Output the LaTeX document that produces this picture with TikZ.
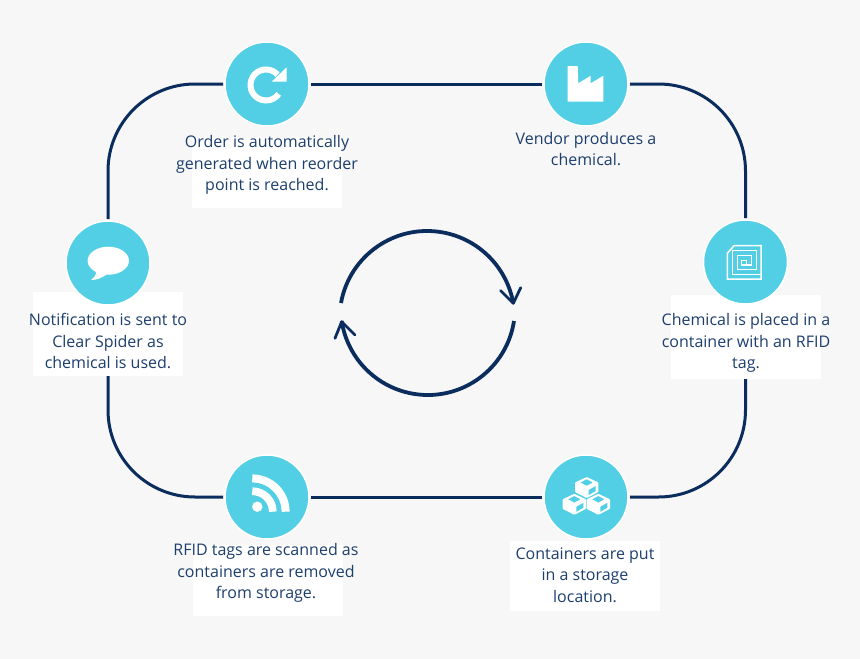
\documentclass[tikz,border=0pt]{standalone}
\usepackage{fontspec}
\setmainfont{Open Sans}
\definecolor{pagebg}{HTML}{F7F7F7}
\definecolor{navy}{HTML}{0B2D5E}
\definecolor{inktext}{HTML}{1D3F6E}
\definecolor{cyanfill}{HTML}{52CFE5}
\pgfdeclarelayer{backlayer}
\pgfdeclarelayer{midlayer}
\pgfsetlayers{backlayer,midlayer,main}
\tikzset{
  stage/.style={circle,fill=cyanfill,draw=white,line width=1.5pt,minimum size=84pt,inner sep=0pt,outer sep=2pt},
  loopline/.style={draw=navy,line width=3pt},
  ringline/.style={draw=navy,line width=3.8pt},
  chevron/.style={draw=navy,line width=2.8pt,line cap=round,line join=round},
  whitebox/.style={fill=white,draw=none,inner sep=0pt,minimum width=150pt},
  caption/.style={text=inktext,align=center,inner sep=0pt,font=\fontsize{16pt}{21.5pt}\selectfont},
  chipline/.style={draw=white,line width=1.5pt,line join=miter},
}
\newcommand{\isocube}[2]{%
  \fill[white,rounded corners=0.8pt] (#1,#2-10.5) -- (#1+11.7,#2-5) -- (#1+11.7,#2+4.5) -- (#1,#2+10.5) -- (#1-11.7,#2+4.5) -- (#1-11.7,#2-5) -- cycle;
  \fill[cyanfill] (#1,#2-8.2) -- (#1+6,#2-5) -- (#1,#2-1.8) -- (#1-6,#2-5) -- cycle;
  \fill[cyanfill] (#1+9,#2-1.5) -- (#1+9,#2+3.5) -- (#1+2,#2+7.5) -- (#1+2,#2+2.5) -- cycle;
}
\begin{document}
\begin{tikzpicture}[x=1pt,y=1pt,yscale=-1]
\useasboundingbox (0,0) rectangle (860,659);

% stage circles
\node[stage] (order) at (267,84) {};
\node[stage] (vendor) at (586,84) {};
\node[stage] (chip) at (745.5,262) {};
\node[stage] (store) at (586,497) {};
\node[stage] (scan) at (267,497) {};
\node[stage] (notify) at (108,263) {};

\begin{pgfonlayer}{backlayer}
  \fill[pagebg] (0,0) rectangle (860,659);
  \draw[loopline] (order) -- (vendor);
  \draw[loopline,rounded corners=87pt] (vendor) -| (chip);
  \draw[loopline,rounded corners=87pt] (chip) |- (store);
  \draw[loopline] (store) -- (scan);
  \draw[loopline,rounded corners=87pt] (scan) -| (notify);
  \draw[loopline,rounded corners=87pt] (notify) |- (order);
\end{pgfonlayer}

\begin{pgfonlayer}{midlayer}
  \node[whitebox,minimum height=70pt] (orderbox) at (267,173) {};
  \node[whitebox,minimum height=84pt] (chipbox) at (746,337) {};
  \node[whitebox,minimum height=70pt] (storebox) at (585,576) {};
  \node[whitebox,minimum height=71pt] (scanbox) at (268,580.5) {};
  \node[whitebox,minimum height=84pt] (notifybox) at (108,334) {};
\end{pgfonlayer}

% captions
\node[caption] (ordertext) at (267,165) {Order is automatically\\generated when reorder\\point is reached.};
\node[caption] (vendortext) at (586,149) {Vendor produces a\\chemical.};
\node[caption] (chiptext) at (746,343) {Chemical is placed in a\\container with an RFID\\tag.};
\node[caption] (storetext) at (585,575) {Containers are put\\in a storage\\location.};
\node[caption] (scantext) at (266,573) {RFID tags are scanned as\\containers are removed\\from storage.};
\node[caption] (notifytext) at (108,341) {Notification is sent to\\Clear Spider as\\chemical is used.};

% reload icon
\coordinate (reloadcentre) at (266,85);
\draw[white,line width=6pt] (reloadcentre) ++(-42:15.5pt) arc[start angle=-42,end angle=-325,radius=15.5pt];
\fill[white] (286.7,67.3) -- (286.7,81.7) -- (271.7,81.7) -- cycle;

% factory icon
\fill[white] (567.7,66) -- (577.7,66) -- (578.3,83.3) -- (590.7,75.7) -- (590.7,83.3) -- (603.3,75.7) -- (603.3,101.7) -- (567.7,101.7) -- cycle;

% RFID chip icon
\draw[chipline] (727.3,279) -- (727.3,253.3) -- (734,245.7) -- (761,245.7) -- (761,279) -- cycle;
\draw[chipline] (761,274.3) -- (732.3,274.3) -- (732.3,250.7) -- (756.7,250.7) -- (756.7,269.3) -- (737.7,269.3) -- (737.7,255.7) -- (751.7,255.7) -- (751.7,265) -- (741.7,265) -- (741.7,260.7) -- (746.7,260.7) -- (746.7,265);

% cubes icon
\isocube{586.7}{487.5}
\isocube{574.3}{504.3}
\isocube{598.3}{504.3}

% feed icon
\fill[white] (257.3,506.7) circle[radius=5.2pt];
\draw[white,line width=8pt] (252.3,478.4) arc[start angle=-90,end angle=0,radius=33.3pt];
\draw[white,line width=7.7pt] (252.3,491.2) arc[start angle=-90,end angle=0,radius=20.5pt];

% speech icon
\fill[white] (108.3,260.7) ellipse[x radius=20.7pt,y radius=14pt];
\fill[white] (95,268) -- (96,274) .. controls (95,277) and (93,278) .. (91,280) .. controls (97,280) and (102,278) .. (108,273.5) -- cycle;

% centre arrows
\coordinate (ringtopstart) at (341,303);
\coordinate (ringbotstart) at (514,321);
\coordinate (tipright) at (513.3,303.3);
\coordinate (tipleft) at (341.7,321.7);
\draw[ringline] (ringtopstart) arc[start angle=-169.8,end angle=-10.2,radius=87.5pt];
\draw[ringline] (ringbotstart) arc[start angle=8.68,end angle=171.32,radius=87.15pt];
\draw[chevron] (500.7,290.7) -- (tipright) -- (520.7,287.7);
\draw[chevron] (335,338.3) -- (tipleft) -- (355,335);
\end{tikzpicture}
\end{document}
